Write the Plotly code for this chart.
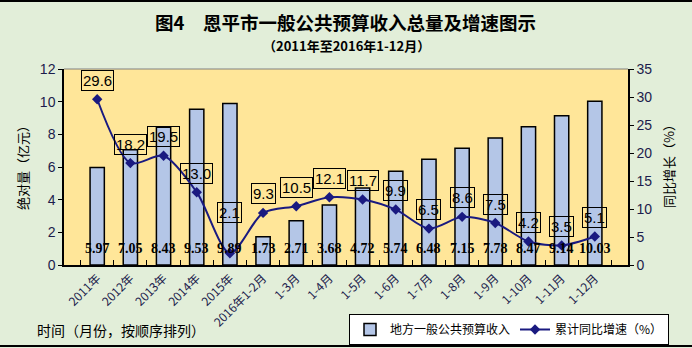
import plotly.graph_objects as go

categories = ["2011年", "2012年", "2013年", "2014年", "2015年", "2016年1-2月", "1-3月", "1-4月",
              "1-5月", "1-6月", "1-7月", "1-8月", "1-9月", "1-10月", "1-11月", "1-12月"]
revenue = [5.97, 7.05, 8.43, 9.53, 9.89, 1.73, 2.71, 3.68, 4.72, 5.74, 6.48, 7.15, 7.78, 8.47, 9.14, 10.03]
growth = [29.6, 18.2, 19.5, 13.0, 2.1, 9.3, 10.5, 12.1, 11.7, 9.9, 6.5, 8.6, 7.5, 4.2, 3.5, 5.1]
growth_labels = ["29.6", "18.2", "19.5", "13.0", "2.1", "9.3", "10.5", "12.1", "11.7", "9.9",
                 "6.5", "8.6", "7.5", "4.2", "3.5", "5.1"]

W, H = 692, 348
L, R, T, B = 64, 628, 69, 265

CJK = "Noto Sans CJK SC"
TICKC = "#1c1c4c"

fig = go.Figure()
fig.add_trace(go.Bar(
    x=categories, y=revenue, name="地方一般公共预算收入",
    marker=dict(color="#b4c6e7", line=dict(color="black", width=1.5)),
    width=0.43, yaxis="y",
))
fig.add_trace(go.Scatter(
    x=categories, y=growth, name="累计同比增速（%）", yaxis="y2",
    mode="lines+markers", line=dict(color="#1a1a80", width=2, shape="spline", smoothing=0.8),
    marker=dict(symbol="diamond", size=8, color="#1a1a80"),
))

ann = []
for c, v in zip(categories, revenue):
    ann.append(dict(x=c, y=1.0, xref="x", yref="y", text=f"<b>{v:.2f}</b>", showarrow=False,
                    font=dict(family="Liberation Serif", size=14, color="black"), yanchor="middle"))
for i, (c, v, t) in enumerate(zip(categories, growth, growth_labels)):
    shift = 41 if i == 4 else 19
    ann.append(dict(x=c, y=v, xref="x", yref="y2", text=t, showarrow=False, yshift=shift,
                    font=dict(family="Arial", size=15, color="black"),
                    bordercolor="black", borderwidth=1, borderpad=1, yanchor="middle"))

def px(xp):
    return (xp - L) / (R - L)

def py(yp):
    return (B - yp) / (B - T)

ann += [
    dict(x=px(345), y=py(22), xref="paper", yref="paper", showarrow=False,
         text="<b>图4　恩平市一般公共预算收入总量及增速图示</b>",
         font=dict(family=CJK, size=18.5, color="black"), xanchor="center", yanchor="middle"),
    dict(x=px(346), y=py(45), xref="paper", yref="paper", showarrow=False,
         text="<b>（2011年至2016年1-12月）</b>",
         font=dict(family=CJK, size=13, color="black"), xanchor="center", yanchor="middle"),
    dict(x=px(22), y=py(165), xref="paper", yref="paper", showarrow=False, textangle=-90,
         text="绝对量（亿元）", font=dict(family=CJK, size=13, color="black"),
         xanchor="center", yanchor="middle"),
    dict(x=px(668), y=py(163), xref="paper", yref="paper", showarrow=False, textangle=-90,
         text="同比增长（%）", font=dict(family=CJK, size=13, color="black"),
         xanchor="center", yanchor="middle"),
    dict(x=px(35), y=py(330), xref="paper", yref="paper", showarrow=False,
         text="时间（月份，按顺序排列）", font=dict(family=CJK, size=14, color="black"),
         xanchor="left", yanchor="middle"),
]

fig.update_layout(
    width=W, height=H,
    margin=dict(l=L, r=W - R, t=T, b=H - B, autoexpand=False),
    paper_bgcolor="#e2eed9", plot_bgcolor="#ffe699",
    showlegend=True,
    legend=dict(orientation="h", xref="container", yref="container",
                x=349 / W, y=1 - 314 / H, xanchor="left", yanchor="top",
                bgcolor="white", bordercolor="black", borderwidth=1,
                font=dict(family=CJK, size=12, color="black"),
                itemwidth=30, tracegroupgap=0),
    bargap=0.57,
    xaxis=dict(type="category", tickson="boundaries", ticks="inside", ticklen=5,
               tickcolor="black", showline=True, linecolor="black", linewidth=1.5,
               tickangle=-45, tickfont=dict(family=CJK, size=12, color=TICKC),
               showgrid=False, zeroline=False, automargin=False),
    yaxis=dict(range=[0, 12], dtick=2, ticks="outside", ticklen=4, tickcolor="black",
               showline=True, linecolor="black", linewidth=1.5, showgrid=False, zeroline=False,
               automargin=False, tickfont=dict(family="Arial", size=14, color=TICKC)),
    yaxis2=dict(range=[0, 35], dtick=5, overlaying="y", side="right", ticks="outside",
                ticklen=4, tickcolor="black", showline=True, linecolor="black", linewidth=1.5,
                showgrid=False, zeroline=False, automargin=False,
                tickfont=dict(family="Arial", size=14, color=TICKC)),
    annotations=ann,
    shapes=[
        dict(type="line", xref="paper", yref="paper", x0=0, x1=1, y0=1, y1=1,
             line=dict(color="#808080", width=1)),
        dict(type="rect", xref="paper", yref="paper", x0=px(-5), x1=px(W + 5),
             y0=py(1), y1=py(346), layer="below",
             line=dict(color="black", width=2), fillcolor="rgba(0,0,0,0)"),
    ],
)

fig.write_html("out.html")
